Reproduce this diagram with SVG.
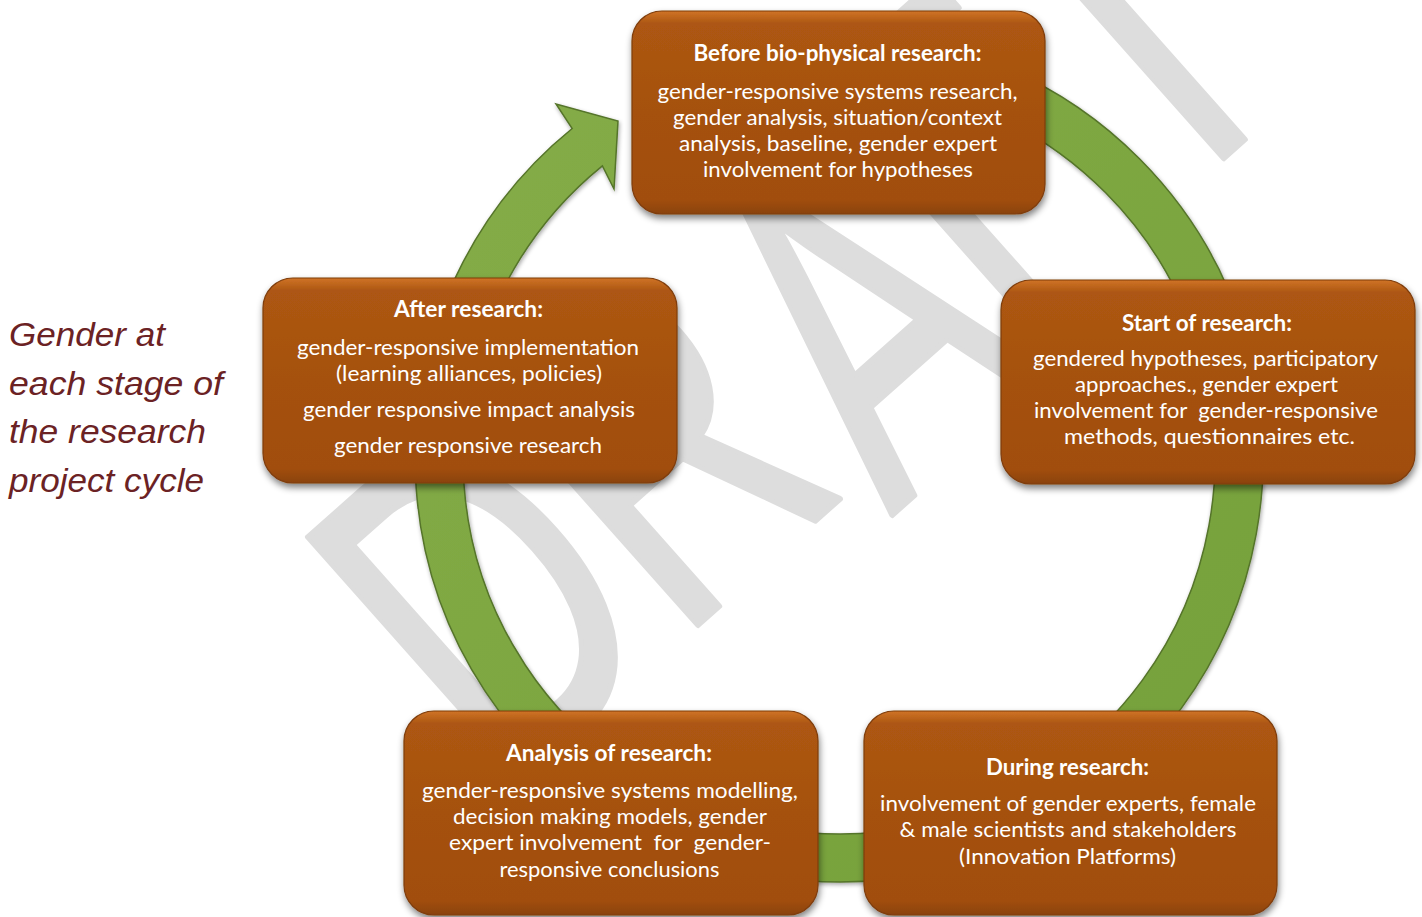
<svg xmlns="http://www.w3.org/2000/svg" width="1422" height="917" viewBox="0 0 1422 917">
  <defs>
    <linearGradient id="boxFill" x1="0" y1="0" x2="0" y2="1">
      <stop offset="0" stop-color="#d07427"/>
      <stop offset="0.06" stop-color="#ad5712"/>
      <stop offset="0.5" stop-color="#a5510f"/>
      <stop offset="0.93" stop-color="#a14e0e"/>
      <stop offset="1" stop-color="#8a4209"/>
    </linearGradient>
    <linearGradient id="ringFill" x1="0" y1="0" x2="1" y2="1">
      <stop offset="0" stop-color="#86ad48"/>
      <stop offset="1" stop-color="#74a03a"/>
    </linearGradient>
    <filter id="boxShadow" x="-10%" y="-10%" width="125%" height="135%">
      <feGaussianBlur in="SourceAlpha" stdDeviation="3.5"/>
      <feOffset dx="1" dy="4"/>
      <feComponentTransfer><feFuncA type="linear" slope="0.5"/></feComponentTransfer>
      <feMerge><feMergeNode/><feMergeNode in="SourceGraphic"/></feMerge>
    </filter>
    <filter id="ringShadow" x="-10%" y="-10%" width="120%" height="120%">
      <feGaussianBlur in="SourceAlpha" stdDeviation="2"/>
      <feOffset dx="1" dy="2"/>
      <feComponentTransfer><feFuncA type="linear" slope="0.35"/></feComponentTransfer>
      <feMerge><feMergeNode/><feMergeNode in="SourceGraphic"/></feMerge>
    </filter>
  </defs>
  <style>
    .box { fill: url(#boxFill); stroke: #7e3c08; stroke-width: 1.2; filter: url(#boxShadow); }
    .hd { font-family: Lato, "Liberation Sans", sans-serif; font-weight: 700; font-size: 22px; fill: #ffffff; text-anchor: middle; }
    .tx { font-family: Lato, "Liberation Sans", sans-serif; font-size: 22px; fill: #ffffff; text-anchor: middle; }
    .cap { font-family: "Liberation Sans", Arial, sans-serif; font-style: italic; font-size: 34px; fill: #6b2224; }
    .wm { font-family: "Liberation Sans", Arial, sans-serif; font-size: 323px; fill: #dddddd; stroke: #dddddd; stroke-width: 4; stroke-linejoin: round; }
    .ring { fill: url(#ringFill); stroke: #55742a; stroke-width: 1.5; filter: url(#ringShadow); }
  </style>

  <rect width="1422" height="917" fill="#ffffff"/>

  <!-- page watermark, stretched and turned across the sheet -->
  <g id="watermark">
    <text class="wm" transform="translate(503,798) rotate(-41.6) scale(1,1.46)"><tspan>DR</tspan><tspan dx="11" dy="32">A</tspan><tspan dx="-11" dy="-32">FT</tspan></text>
  </g>

  <!-- cycle arrow running behind the stage boxes -->
  <g id="connectors">
    <path class="ring" d="M 765.4,40.4 A 424 424 0 1 1 572.2,128.5 L 556,104 L 618,121 L 614,189 L 602.4,165.8 A 376 376 0 1 0 773.7,87.7 Z"/>
  </g>

  <!-- caption -->
  <g id="caption">
    <text class="cap" x="9" y="346" textLength="156" lengthAdjust="spacingAndGlyphs">Gender at</text>
    <text class="cap" x="9" y="395" textLength="214" lengthAdjust="spacingAndGlyphs">each stage of</text>
    <text class="cap" x="9" y="443" textLength="197" lengthAdjust="spacingAndGlyphs">the research</text>
    <text class="cap" x="9" y="492" textLength="195" lengthAdjust="spacingAndGlyphs">project cycle</text>
  </g>

  <g id="before">
    <rect class="box" x="632" y="11" width="413" height="203" rx="30"/>
    <text class="hd" x="837.5" y="61" textLength="288" lengthAdjust="spacingAndGlyphs">Before bio-physical research:</text>
    <text class="tx" x="837.5" y="99" textLength="360" lengthAdjust="spacingAndGlyphs">gender-responsive systems research,</text>
    <text class="tx" x="837.5" y="125" textLength="329" lengthAdjust="spacingAndGlyphs">gender analysis, situation/context</text>
    <text class="tx" x="838" y="151" textLength="318" lengthAdjust="spacingAndGlyphs">analysis, baseline, gender expert</text>
    <text class="tx" x="838" y="177" textLength="270" lengthAdjust="spacingAndGlyphs">involvement for hypotheses</text>
  </g>

  <g id="start">
    <rect class="box" x="1001" y="280" width="414" height="204" rx="30"/>
    <text class="hd" x="1207" y="331" textLength="170" lengthAdjust="spacingAndGlyphs">Start of research:</text>
    <text class="tx" x="1205.5" y="366" textLength="345" lengthAdjust="spacingAndGlyphs">gendered hypotheses, participatory</text>
    <text class="tx" x="1206.5" y="392" textLength="263" lengthAdjust="spacingAndGlyphs">approaches., gender expert</text>
    <text class="tx" x="1206" y="418" textLength="344" lengthAdjust="spacingAndGlyphs" xml:space="preserve">involvement for  gender-responsive</text>
    <text class="tx" x="1209.5" y="444" textLength="291" lengthAdjust="spacingAndGlyphs">methods, questionnaires etc.</text>
  </g>

  <g id="after">
    <rect class="box" x="263" y="278" width="414" height="205" rx="30"/>
    <text class="hd" x="468.5" y="317" textLength="149" lengthAdjust="spacingAndGlyphs">After research:</text>
    <text class="tx" x="468" y="355" textLength="342" lengthAdjust="spacingAndGlyphs">gender-responsive implementation</text>
    <text class="tx" x="469" y="381" textLength="266" lengthAdjust="spacingAndGlyphs">(learning alliances, policies)</text>
    <text class="tx" x="469" y="417" textLength="332" lengthAdjust="spacingAndGlyphs">gender responsive impact analysis</text>
    <text class="tx" x="468" y="453" textLength="268" lengthAdjust="spacingAndGlyphs">gender responsive research</text>
  </g>

  <g id="analysis">
    <rect class="box" x="404" y="711" width="414" height="204" rx="30"/>
    <text class="hd" x="609" y="761" textLength="206" lengthAdjust="spacingAndGlyphs">Analysis of research:</text>
    <text class="tx" x="610" y="798" textLength="376" lengthAdjust="spacingAndGlyphs">gender-responsive systems modelling,</text>
    <text class="tx" x="610" y="824" textLength="314" lengthAdjust="spacingAndGlyphs">decision making models, gender</text>
    <text class="tx" x="610" y="850" textLength="322" lengthAdjust="spacingAndGlyphs" xml:space="preserve">expert involvement  for  gender-</text>
    <text class="tx" x="609.5" y="877" textLength="220" lengthAdjust="spacingAndGlyphs">responsive conclusions</text>
  </g>

  <g id="during">
    <rect class="box" x="864" y="711" width="413" height="204" rx="30"/>
    <text class="hd" x="1067.5" y="775" textLength="163" lengthAdjust="spacingAndGlyphs">During research:</text>
    <text class="tx" x="1068" y="811" textLength="376" lengthAdjust="spacingAndGlyphs">involvement of gender experts, female</text>
    <text class="tx" x="1068" y="837" textLength="337" lengthAdjust="spacingAndGlyphs">&amp; male scientists and stakeholders</text>
    <text class="tx" x="1067.5" y="864" textLength="217" lengthAdjust="spacingAndGlyphs">(Innovation Platforms)</text>
  </g>
</svg>
